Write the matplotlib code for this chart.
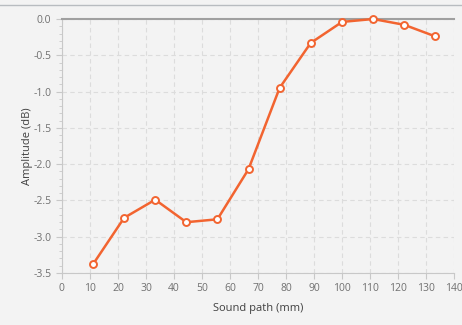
import matplotlib
matplotlib.use("Agg")
import matplotlib.pyplot as plt
from matplotlib.lines import Line2D
from matplotlib.ticker import MultipleLocator

# Echo amplitude along the sound path
sound_path = [11.1, 22.2, 33.3, 44.4, 55.5, 66.6, 77.7, 88.8, 100.0, 111.1, 122.2, 133.3]
amplitude = [-3.38, -2.74, -2.49, -2.80, -2.76, -2.07, -0.95, -0.33, -0.04, 0.0, -0.08, -0.24]

BG = "#f3f3f3"
LINE = "#f26430"

plt.rcParams["font.family"] = ["Open Sans", "DejaVu Sans"]

fig = plt.figure(figsize=(4.62, 3.25), dpi=100, facecolor=BG)
ax = fig.add_axes([0.134, 0.16, 0.849, 0.7815], facecolor=BG)

ax.plot(sound_path, amplitude, color=LINE, lw=1.8, marker="o", ms=5,
        mfc="white", mec=LINE, mew=1.4, zorder=3, clip_on=False)

ax.set_xlim(0, 140)
ax.set_ylim(-3.5, 0.0)
ax.xaxis.set_major_locator(MultipleLocator(10))
ax.yaxis.set_major_locator(MultipleLocator(0.5))
ax.yaxis.set_minor_locator(MultipleLocator(0.1))
ax.yaxis.set_major_formatter(plt.FuncFormatter(lambda v, p: f"{v:.1f}"))

ax.grid(True, which="major", color="#dcdcdc", ls=(0, (4, 3)), lw=0.8)
ax.set_axisbelow(True)

ax.spines["right"].set_visible(False)
ax.spines["top"].set_color("#a0a0a0")
ax.spines["top"].set_linewidth(1.5)
ax.spines["left"].set_color("#c8c8c8")
ax.spines["bottom"].set_color("#c8c8c8")

ax.tick_params(which="major", length=4, color="#c8c8c8", labelsize=7.5,
               labelcolor="#707070")
ax.tick_params(which="minor", length=2.5, color="#c8c8c8")

ax.set_xlabel("Sound path (mm)", fontsize=8, color="#404040", labelpad=6)
ax.set_ylabel("Amplitude (dB)", fontsize=8, color="#404040", labelpad=0)

# thin rule across the top of the panel
fig.add_artist(Line2D([0, 1], [1 - 5 / 325, 1 - 5 / 325], transform=fig.transFigure,
                      color="#b8bcc0", lw=1))

fig.savefig("out.png", dpi=100, facecolor=BG)
